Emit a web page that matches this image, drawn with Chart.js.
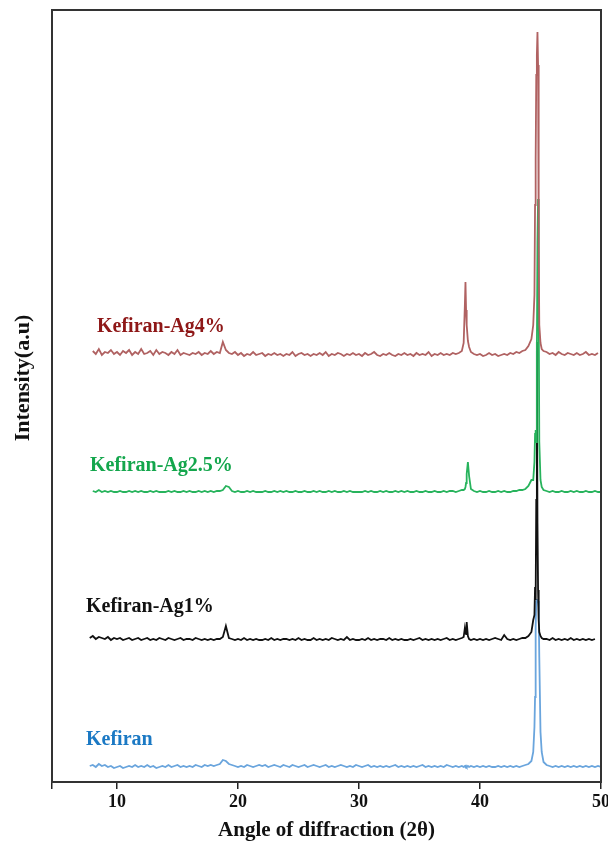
<!DOCTYPE html>
<html lang="en">

<head>
    <meta charset="UTF-8">
    <title>XRD Kefiran-Ag</title>
    <style>
        body {
            margin: 0;
            background: #fff;
        }

        #myChart {
            display: block;
        }
    </style>
</head>

<body>
    <canvas id="myChart" width="608" height="847"></canvas>

    <script src="https://cdn.jsdelivr.net/npm/chart.js"></script>

    <script>
        // 2theta grid (degrees), denser around the peaks
        const angles = [
            7.75,
            8, 8.25, 8.5, 8.75, 9, 9.25, 9.5, 9.75,
            10, 10.25, 10.5, 10.75, 11, 11.25, 11.5, 11.75,
            12, 12.25, 12.5, 12.75, 13, 13.25, 13.5, 13.75,
            14, 14.25, 14.5, 14.75, 15, 15.25, 15.5, 15.75,
            16, 16.25, 16.5, 16.75, 17, 17.25, 17.5, 17.75,
            18, 18.25, 18.5, 18.75, 19, 19.25, 19.5, 19.75,
            20, 20.25, 20.5, 20.75, 21, 21.25, 21.5, 21.75,
            22, 22.25, 22.5, 22.75, 23, 23.25, 23.5, 23.75,
            24, 24.25, 24.5, 24.75, 25, 25.25, 25.5, 25.75,
            26, 26.25, 26.5, 26.75, 27, 27.25, 27.5, 27.75,
            28, 28.25, 28.5, 28.75, 29, 29.25, 29.5, 29.75,
            30, 30.25, 30.5, 30.75, 31, 31.25, 31.5, 31.75,
            32, 32.25, 32.5, 32.75, 33, 33.25, 33.5, 33.75,
            34, 34.25, 34.5, 34.75, 35, 35.25, 35.5, 35.75,
            36, 36.25, 36.5, 36.75, 37, 37.25, 37.5, 37.75,
            38, 38.25, 38.5,
            38.65, 38.75, 38.8, 38.85, 38.9, 39, 39.1, 39.25, 39.5,
            39.75, 40, 40.25, 40.5, 40.75, 41, 41.25, 41.5, 41.75, 42,
            42.25, 42.5, 42.75, 43, 43.25, 43.5, 43.75, 44, 44.25,
            44.4, 44.5, 44.55, 44.6, 44.65, 44.7, 44.75, 44.8, 44.85, 44.9, 45, 45.1, 45.25,
            45.5, 45.75, 46, 46.25, 46.5, 46.75, 47, 47.25, 47.5, 47.75,
            48, 48.25, 48.5, 48.75, 49, 49.25, 49.5, 49.75, 50
        ];

        const ag4 = [
            null,
            14, 11, 16, 10, 13, 12, 15, 11,
            13, 10, 14, 12, 15, 10, 13, 11,
            16, 11, 12, 14, 10, 15, 11, 13,
            12, 10, 13, 11, 15, 10, 12, 11,
            10, 12, 11, 13, 10, 12, 11, 14,
            11, 13, 12, 23, 15, 12, 11, 13,
            10, 12, 9, 11, 10, 13, 10, 11,
            12, 9, 11, 10, 12, 10, 11, 9,
            11, 10, 13, 9, 11, 12, 10, 11,
            9, 11, 10, 12, 10, 13, 9, 11,
            10, 12, 11, 9, 11, 10, 12, 10,
            11, 9, 12, 10, 11, 13, 10, 9,
            11, 10, 12, 10, 9, 11, 10, 12,
            10, 11, 9, 12, 10, 11, 10, 13,
            9, 11, 10, 12, 10, 11, 10, 12,
            11, 12, 14,
            22, 60, 83, 55, 40, 24, 18, 13, 11,
            10, 11, 9, 10, 12, 10, 11, 9, 10, 11,
            10, 12, 11, 13, 12, 14, 15, 19, 26,
            40, 70, 160, 205, 290, 310, 333, 300, 120, 40, 22, 16, 14,
            13, 11, 12, 10, 13, 11, 10, 12, 11, 10,
            12, 10, 11, 13, 10, 11, 10, 12, null
        ];

        const ag25 = [
            null,
            11, 10, 12, 10, 11, 10, 11, 10,
            10, 11, 10, 10, 11, 10, 11, 10,
            11, 10, 10, 11, 10, 11, 10, 10,
            10, 11, 10, 11, 10, 10, 11, 10,
            11, 10, 10, 11, 10, 11, 10, 11,
            10, 11, 11, 12, 16, 15, 11, 10,
            11, 10, 10, 11, 10, 11, 10, 10,
            10, 11, 10, 10, 11, 10, 11, 10,
            11, 10, 10, 11, 10, 10, 11, 10,
            10, 11, 10, 11, 10, 10, 11, 10,
            11, 10, 10, 11, 10, 11, 10, 10,
            10, 10, 11, 10, 11, 10, 10, 11,
            10, 11, 10, 10, 11, 10, 11, 10,
            11, 10, 10, 11, 10, 10, 11, 10,
            10, 11, 10, 10, 11, 10, 11, 11,
            10, 11, 12,
            12, 13, 15, 19, 28, 40, 26, 13, 11,
            10, 11, 10, 10, 11, 10, 10, 11, 10, 11,
            10, 10, 11, 11, 12, 12, 13, 16, 22,
            22, 40, 68, 72, 60, 150, 260, 303, 200, 60, 22, 15, 12,
            11, 10, 11, 10, 10, 11, 10, 10, 11, 10,
            11, 10, 10, 11, 10, 10, 11, 10, 10
        ];

        const ag1 = [
            12,
            14, 11, 13, 12, 11, 13, 10, 12,
            11, 12, 10, 11, 12, 10, 11, 12,
            10, 11, 12, 10, 11, 10, 12, 11,
            10, 12, 11, 10, 11, 12, 10, 11,
            11, 10, 12, 11, 10, 11, 10, 11,
            10, 11, 11, 13, 24, 12, 11, 10,
            11, 10, 12, 10, 11, 10, 11, 10,
            10, 11, 10, 12, 10, 11, 10, 11,
            11, 10, 11, 10, 12, 10, 11, 10,
            10, 12, 10, 11, 10, 11, 10, 12,
            11, 10, 11, 10, 13, 10, 11, 10,
            10, 11, 10, 12, 10, 11, 10, 11,
            11, 10, 12, 10, 11, 10, 11, 10,
            10, 11, 10, 11, 12, 10, 11, 10,
            11, 10, 11, 10, 11, 12, 10, 11,
            10, 11, 12,
            13, 22, 18, 16, 28, 14, 11, 10, 11,
            10, 11, 10, 11, 10, 11, 12, 11, 10, 15,
            11, 10, 11, 10, 11, 12, 12, 14, 18,
            30, 35, 63, 50, 150, 308, 127, 60, 30, 18, 14, 12, 11,
            11, 10, 12, 10, 11, 10, 11, 10, 12, 10,
            11, 10, 11, 10, 11, 10, 11, null, null
        ];

        const kefiran = [
            11,
            12, 10, 13, 11, 12, 10, 11, 9,
            10, 11, 9, 10, 11, 10, 12, 10,
            11, 10, 12, 10, 11, 9, 10, 11,
            10, 12, 10, 11, 12, 10, 11, 10,
            11, 10, 12, 11, 10, 12, 11, 12,
            11, 12, 13, 17, 16, 13, 12, 11,
            10, 11, 10, 12, 11, 10, 11, 12,
            11, 12, 10, 11, 12, 11, 10, 12,
            11, 10, 12, 11, 10, 11, 12, 10,
            11, 12, 11, 10, 11, 12, 10, 11,
            10, 11, 12, 11, 10, 11, 10, 12,
            11, 10, 11, 12, 10, 11, 10, 11,
            10, 11, 10, 11, 12, 10, 11, 10,
            11, 10, 11, 10, 11, 12, 10, 11,
            10, 11, 10, 11, 10, 12, 11, 10,
            11, 10, 11,
            10, 11, 10, 11, 10, 11, 10, 11, 10,
            11, 10, 11, 10, 11, 10, 10, 11, 10, 11,
            10, 11, 10, 11, 10, 11, 12, 13, 16,
            25, 50, 80, 150, 175, 177, 177, 176, 170, 120, 45, 25, 15,
            12, 11, 10, 11, 10, 11, 10, 11, 10, 11,
            10, 11, 10, 11, 10, 11, 10, 11, 10
        ];

        const seriesNames = ['Kefiran-Ag4%', 'Kefiran-Ag2.5%', 'Kefiran-Ag1%', 'Kefiran'];
        const seriesValues = [ag4, ag25, ag1, kefiran];
        const xTicks = [10, 20, 30, 40, 50];

        // vertical offset used to stack the patterns
        const stackOffsets = [417, 280, 132, 5];
        const lineColors = ['#b06262', '#27b35c', '#111111', '#6aa5dd'];
        const textColors = ['#8e1717', '#13a64c', '#111111', '#1b79c4'];
        // where each name sits (2theta, stacked intensity)
        const nameAnchors = [[8.35, 455], [7.77, 316], [7.44, 175], [7.44, 42]];

        const X_MIN = 4.63, X_MAX = 50, Y_MAX = 772;

        seriesValues.forEach(function (v, i) {
            if (v.length !== angles.length) {
                throw new Error(seriesNames[i] + ' length ' + v.length + ' != ' + angles.length);
            }
        });

        function make_points(values, offset) {
            let pts = [];
            for (let i = 0; i < angles.length; i++) {
                if (values[i] === null) continue;
                pts.push({ x: angles[i], y: values[i] + offset });
            }
            return pts;
        }

        const serif = "'Liberation Serif', 'Times New Roman', serif";

        // box frame, series names and the y title
        const framePlugin = {
            id: 'frame',
            afterDraw(chart) {
                const { ctx, chartArea: a, scales } = chart;
                ctx.save();
                ctx.strokeStyle = '#333';
                ctx.lineWidth = 2;
                ctx.strokeRect(a.left, a.top, a.right - a.left, a.bottom - a.top);

                ctx.font = 'bold 20px ' + serif;
                ctx.textAlign = 'left';
                ctx.textBaseline = 'middle';
                for (let i = 0; i < seriesNames.length; i++) {
                    ctx.fillStyle = textColors[i];
                    ctx.fillText(seriesNames[i],
                        scales.x.getPixelForValue(nameAnchors[i][0]),
                        scales.y.getPixelForValue(nameAnchors[i][1]));
                }

                // y title sits a bit above the middle in the original
                ctx.translate(23, scales.y.getPixelForValue(404));
                ctx.rotate(-Math.PI / 2);
                ctx.textAlign = 'center';
                ctx.fillStyle = '#111';
                ctx.font = 'bold 22px ' + serif;
                ctx.fillText('Intensity(a.u)', 0, 0);
                ctx.restore();
            }
        };

        const ctx = document.getElementById('myChart');

        let config = {
            type: 'line',
            data: {
                datasets: seriesNames.map(function (name, i) {
                    return {
                        label: name,
                        data: make_points(seriesValues[i], stackOffsets[i]),
                        borderColor: lineColors[i],
                        borderWidth: 1.8,
                        pointRadius: 0,
                        tension: 0
                    };
                })
            },
            options: {
                responsive: false,
                animation: false,
                layout: { padding: { top: 10, right: 7, left: 0, bottom: 0 } },
                plugins: {
                    legend: { display: false },
                    tooltip: { enabled: false }
                },
                scales: {
                    x: {
                        type: 'linear',
                        min: X_MIN,
                        max: X_MAX,
                        afterBuildTicks: function (scale) {
                            scale.ticks = [{ value: X_MIN }].concat(xTicks.map(v => ({ value: v })));
                        },
                        afterFit: function (scale) {
                            scale.height = 65;
                            scale.paddingLeft = 0;
                            scale.paddingRight = 0;
                        },
                        border: { display: false },
                        grid: {
                            drawOnChartArea: false,
                            drawTicks: true,
                            tickLength: 7,
                            tickColor: '#222',
                            lineWidth: 1.5
                        },
                        ticks: {
                            color: '#111',
                            padding: 3,
                            maxRotation: 0,
                            font: { family: serif, size: 18, weight: 'bold' },
                            callback: function (v) { return xTicks.includes(v) ? v : ''; }
                        },
                        title: {
                            display: true,
                            text: 'Angle of diffraction (2θ)',
                            color: '#111',
                            font: { family: serif, size: 21, weight: 'bold' },
                            padding: { top: 0, bottom: 4 }
                        }
                    },
                    y: {
                        min: 0,
                        max: Y_MAX,
                        afterFit: function (scale) { scale.width = 52; },
                        border: { display: false },
                        grid: { display: false },
                        ticks: { display: false },
                        title: { display: false }
                    }
                }
            },
            plugins: [framePlugin]
        };

        let myChart = new Chart(ctx, config);
    </script>
</body>

</html>
